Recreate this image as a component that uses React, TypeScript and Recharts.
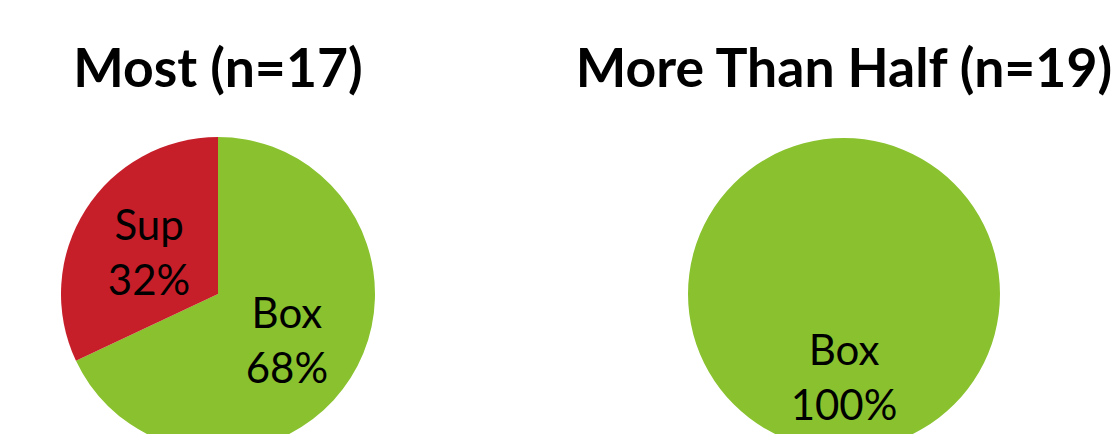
import { PieChart, Pie, Cell } from "recharts";

const mostNames = ["Box", "Sup"];
const mostValues = [68, 32];
const halfNames = ["Box"];
const halfValues = [100];
const titles = ["Most (n=17)", "More Than Half (n=19)"];
const sliceColors: Record<string, string> = { Box: "#89C22E", Sup: "#C61F2A" };

const mostData = mostNames.map((name, i) => ({ name, value: mostValues[i] }));
const halfData = halfNames.map((name, i) => ({ name, value: halfValues[i] }));

const RAD = Math.PI / 180;
const FONT = "Lato, 'Open Sans', sans-serif";

function renderLabel(props: any) {
  const { cx, cy, midAngle, outerRadius, name, percent } = props;
  const r = outerRadius * 0.52;
  const x = cx + r * Math.cos(-midAngle * RAD);
  const y = cy + r * Math.sin(-midAngle * RAD);
  return (
    <text
      x={x}
      y={y}
      textAnchor="middle"
      fill="#000"
      fontFamily={FONT}
      fontSize={42}
    >
      <tspan x={x} dy={-10}>{name}</tspan>
      <tspan x={x} dy={55}>{`${Math.round(percent * 100)}%`}</tspan>
    </text>
  );
}

export default function App() {
  return (
    <div style={{ position: "absolute", left: 0, top: 0, width: 1116, height: 434, background: "#fff", overflow: "hidden" }}>
      <div style={{ position: "absolute", left: 218 - 250, width: 500, top: 36, textAlign: "center", fontFamily: FONT, fontWeight: 700, fontSize: 53.5, lineHeight: "60px" }}>
        {titles[0]}
      </div>
      <div style={{ position: "absolute", left: 844 - 300, width: 600, top: 36, textAlign: "center", fontFamily: FONT, fontWeight: 700, fontSize: 53.5, lineHeight: "60px" }}>
        {titles[1]}
      </div>
      <PieChart width={1116} height={434} margin={{ top: 0, right: 0, bottom: 0, left: 0 }}>
        <Pie
          data={mostData}
          dataKey="value"
          nameKey="name"
          cx={218}
          cy={294}
          outerRadius={157}
          startAngle={90}
          endAngle={-270}
          stroke="none"
          labelLine={false}
          label={renderLabel}
          isAnimationActive={false}
        >
          {mostData.map((d) => (
            <Cell key={d.name} fill={sliceColors[d.name]} />
          ))}
        </Pie>
        <Pie
          data={halfData}
          dataKey="value"
          nameKey="name"
          cx={844}
          cy={294}
          outerRadius={156}
          startAngle={90}
          endAngle={-270}
          stroke="none"
          labelLine={false}
          label={renderLabel}
          isAnimationActive={false}
        >
          {halfData.map((d) => (
            <Cell key={d.name} fill={sliceColors[d.name]} />
          ))}
        </Pie>
      </PieChart>
    </div>
  );
}
